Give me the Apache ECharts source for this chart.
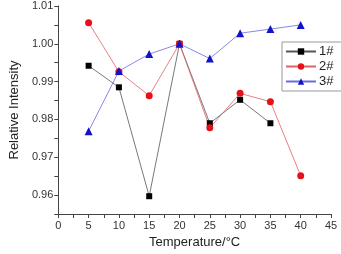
<!DOCTYPE html>
<html><head><meta charset="utf-8">
<script src="https://cdn.jsdelivr.net/npm/echarts@6/dist/echarts.min.js"></script>
<style>html,body{margin:0;padding:0;background:#fff}#c{width:341px;height:254px}</style>
</head><body><div id="c"></div>
<script>
var temps1 = [5, 10, 15, 20, 25, 30, 35];
var series1 = [0.9942, 0.9885, 0.9597, 1.0000, 0.9790, 0.9852, 0.9790];
var temps2 = [5, 10, 15, 20, 25, 30, 35, 40];
var series2 = [1.0056, 0.9926, 0.9863, 1.0000, 0.9778, 0.9869, 0.9847, 0.9651];
var temps3 = [5, 10, 15, 20, 25, 30, 35, 40];
var series3 = [0.9769, 0.9928, 0.9973, 1.0000, 0.9961, 1.0028, 1.0039, 1.0050];
var names = ['1#', '2#', '3#'];
var xTicks = [0, 5, 10, 15, 20, 25, 30, 35, 40, 45];
var yTicks = ['0.96', '0.97', '0.98', '0.99', '1.00', '1.01'];

function pairs(xs, ys) { return xs.map(function (x, i) { return [x, ys[i]]; }); }
var font = 'Liberation Sans, Arial, sans-serif';
var chart = echarts.init(document.getElementById('c'), null, {renderer: 'canvas'});
chart.setOption({
  animation: false,
  backgroundColor: '#fff',
  grid: {left: 45, right: 10, top: 6, bottom: 38},
  legend: {
    left: 282, top: 42, orient: 'vertical', itemWidth: 30, itemHeight: 8, itemGap: 2,
    padding: [3, 10, 3, 3], borderColor: '#999', borderWidth: 1, borderRadius: 0,
    textStyle: {fontFamily: font, fontSize: 13, lineHeight: 12, color: '#222', padding: [0, 0, 0, -2]},
    data: names
  },
  xAxis: {
    type: 'value', min: 0, max: 45, interval: 5,
    name: 'Temperature/°C', nameLocation: 'middle', nameGap: 22,
    nameTextStyle: {fontFamily: font, fontSize: 13, color: '#222'},
    axisLine: {lineStyle: {color: '#444', width: 1}},
    axisTick: {show: true, length: 4, lineStyle: {color: '#444'}},
    minorTick: {show: true, splitNumber: 2, length: 4, lineStyle: {color: '#444'}},
    splitLine: {show: false},
    axisLabel: {fontFamily: font, fontSize: 11, color: '#333', margin: 6,
      formatter: function (v) { return xTicks.indexOf(v) >= 0 ? String(v) : ''; }}
  },
  yAxis: {
    type: 'value', min: 0.955, max: 1.01, interval: 0.005,
    name: 'Relative Intensity', nameLocation: 'middle', nameGap: 32, nameRotate: 90,
    nameTextStyle: {fontFamily: font, fontSize: 13, color: '#222'},
    axisLine: {show: true, lineStyle: {color: '#444', width: 1}},
    axisTick: {show: true, length: 4, lineStyle: {color: '#444'}},
    splitLine: {show: false},
    axisLabel: {fontFamily: font, fontSize: 11, color: '#333', margin: 5,
      formatter: function (v) { var s = v.toFixed(2); return (Math.abs(v - Number(s)) < 1e-6 && yTicks.indexOf(s) >= 0) ? s : ''; }}
  },
  series: [
    {name: names[0], type: 'line', data: pairs(temps1, series1), symbol: 'rect', symbolSize: 6,
      itemStyle: {color: '#000'}, lineStyle: {color: '#555', width: 0.8}},
    {name: names[1], type: 'line', data: pairs(temps2, series2), symbol: 'circle', symbolSize: 7,
      itemStyle: {color: '#e81018'}, lineStyle: {color: '#e06068', width: 0.8}},
    {name: names[2], type: 'line', data: pairs(temps3, series3), symbol: 'triangle', symbolSize: 8,
      itemStyle: {color: '#1212c8'}, lineStyle: {color: '#6a6ae0', width: 0.8}}
  ]
});
</script></body></html>
